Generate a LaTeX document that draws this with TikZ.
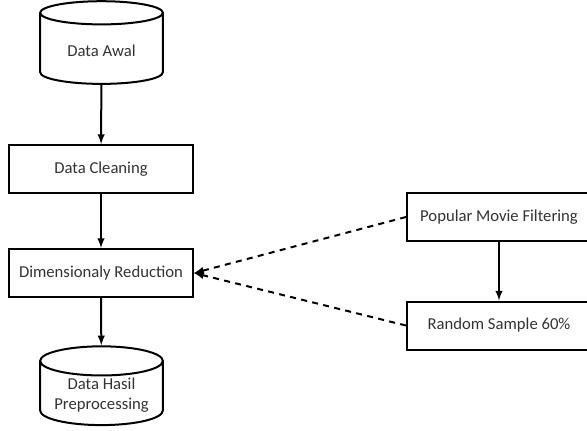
\documentclass[tikz,border=0pt]{standalone}
\usepackage{fontspec}
\setmainfont{Carlito}
\usetikzlibrary{shapes.geometric}
\tikzset{
    proses/.style={draw, line width=1.5pt, minimum width=138pt, minimum height=36pt, text=black!80, font=\fontsize{12.5}{15}\selectfont},
    basisdata/.style={draw, line width=1.5pt, cylinder, shape border rotate=90, aspect=0.3, minimum width=92pt, text=black!80, align=center, font=\fontsize{12.5}{15}\selectfont},
    alur/.style={->, line width=1.5pt},
    pilihan/.style={->, line width=1.5pt, dash pattern=on 4.5pt off 4pt}
}
\begin{document}
\begin{tikzpicture}[>=latex, x=.75pt, y=-.75pt]
\useasboundingbox (0,0) rectangle (587,430);
\node[basisdata, minimum height=62pt] (awal) at (101.5,51){Data Awal};
\node[proses] (clean) at (101,169){Data Cleaning};
\node[proses] (dim) at (101,273){Dimensionaly Reduction};
\node[basisdata, minimum height=50pt, inner sep=1pt] (hasil) at (101.5,395){Data Hasil\\Preprocessing};
\node[proses] (pop) at (499,217){Popular Movie Filtering};
\node[proses] (rand) at (499,325.5){Random Sample 60\%};
\draw[alur] (awal)--(clean);
\draw[alur] (clean)--(dim);
\draw[alur] (dim)--(hasil);
\draw[alur] (pop)--(rand);
\draw[pilihan] (pop.west)--(dim.east);
\draw[pilihan] (rand.west)--(dim.east);
\end{tikzpicture}
\end{document}
